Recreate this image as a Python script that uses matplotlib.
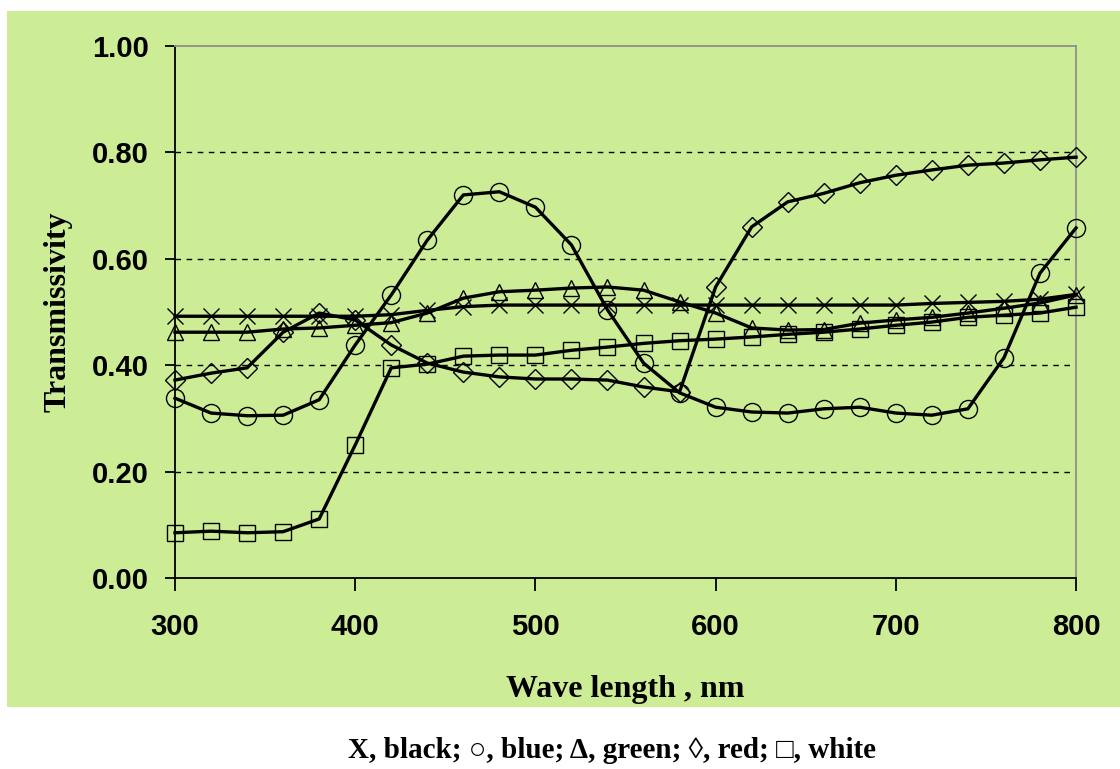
import numpy as np
import matplotlib.pyplot as plt
from matplotlib.patches import Rectangle

# wavelength grid, nm (a marker every 20 nm)
wavelength = [300, 320, 340, 360, 380, 400, 420, 440, 460, 480, 500, 520, 540,
              560, 580, 600, 620, 640, 660, 680, 700, 720, 740, 760, 780, 800]

black = [0.492, 0.492, 0.492, 0.492, 0.492, 0.492, 0.495, 0.503, 0.510, 0.513,
         0.513, 0.513, 0.513, 0.513, 0.513, 0.513, 0.513, 0.513, 0.513, 0.513,
         0.513, 0.516, 0.518, 0.520, 0.524, 0.533]
blue = [0.338, 0.310, 0.305, 0.306, 0.335, 0.438, 0.532, 0.635, 0.720, 0.726,
        0.697, 0.626, 0.504, 0.404, 0.348, 0.321, 0.312, 0.310, 0.318, 0.321,
        0.310, 0.306, 0.318, 0.414, 0.573, 0.658]
green = [0.462, 0.462, 0.462, 0.468, 0.470, 0.475, 0.480, 0.498, 0.526, 0.538,
         0.541, 0.545, 0.547, 0.541, 0.519, 0.498, 0.470, 0.466, 0.467, 0.479,
         0.485, 0.490, 0.498, 0.507, 0.517, 0.532]
red = [0.372, 0.385, 0.395, 0.462, 0.498, 0.485, 0.438, 0.404, 0.387, 0.378,
       0.374, 0.374, 0.372, 0.359, 0.350, 0.547, 0.660, 0.707, 0.723, 0.743,
       0.757, 0.767, 0.776, 0.780, 0.786, 0.791]
white = [0.085, 0.088, 0.085, 0.087, 0.111, 0.250, 0.395, 0.402, 0.417, 0.419,
         0.419, 0.428, 0.434, 0.441, 0.446, 0.449, 0.453, 0.458, 0.462, 0.468,
         0.475, 0.481, 0.490, 0.494, 0.498, 0.509]

series = [(black, 'x', 11), (blue, 'o', 13), (green, '^', 11),
          (red, 'D', 10), (white, 's', 11)]

bg = '#ccec96'
serif = ['Liberation Serif', 'DejaVu Serif']

fig = plt.figure(figsize=(11.2, 7.69), dpi=100)
# green panel behind the chart (the caption sits on white below it)
fig.patches.append(Rectangle((0.00625, 0.0806), 1.0, 0.905, transform=fig.transFigure,
                             facecolor=bg, edgecolor='none', zorder=-5))

ax = fig.add_axes([0.15625, 0.2484, 0.8045, 0.6918])
ax.set_facecolor(bg)

for ys, mk, ms in series:
    ax.plot(wavelength, ys, color='black', lw=2.4, marker=mk, markersize=ms,
            fillstyle='none', markeredgewidth=1.0, markeredgecolor='black',
            zorder=3, clip_on=False)

ax.set_xlim(300, 800)
ax.set_ylim(0, 1.0)
ax.set_xticks([300, 400, 500, 600, 700, 800])
ax.set_yticks([0, 0.2, 0.4, 0.6, 0.8, 1.0])
ax.set_yticklabels([f'{v:.2f}' for v in [0, 0.2, 0.4, 0.6, 0.8, 1.0]])
for y in [0.2, 0.4, 0.6, 0.8]:
    ax.axhline(y, color='black', lw=1.0, ls=(0, (4, 4)), zorder=1)

ax.spines['left'].set_color('black')
ax.spines['bottom'].set_color('black')
ax.spines['top'].set_color('#909090')
ax.spines['right'].set_color('#909090')
for s in ax.spines.values():
    s.set_linewidth(1.3)

ax.tick_params(axis='y', direction='out', length=7, width=1.3, pad=12, colors='black')
ax.tick_params(axis='x', direction='out', length=9.5, width=1.3, pad=16, colors='black')
for lab in ax.get_xticklabels() + ax.get_yticklabels():
    lab.set_fontsize(21)
    lab.set_fontweight('bold')
    lab.set_family(['Liberation Sans', 'DejaVu Sans'])

ax.set_xlabel('Wave length , nm', fontsize=23, fontweight='bold', family=serif, labelpad=24)
ax.set_ylabel('Transmissivity', fontsize=23, fontweight='bold', family=serif, labelpad=14)

fig.text(0.546, 0.006, 'X, black; \u25cb, blue; \u0394, green; \u25ca, red; \u25a1, white',
         ha='center', va='bottom', fontsize=21, fontweight='bold', family=serif)

fig.savefig('out.png', dpi=100)
